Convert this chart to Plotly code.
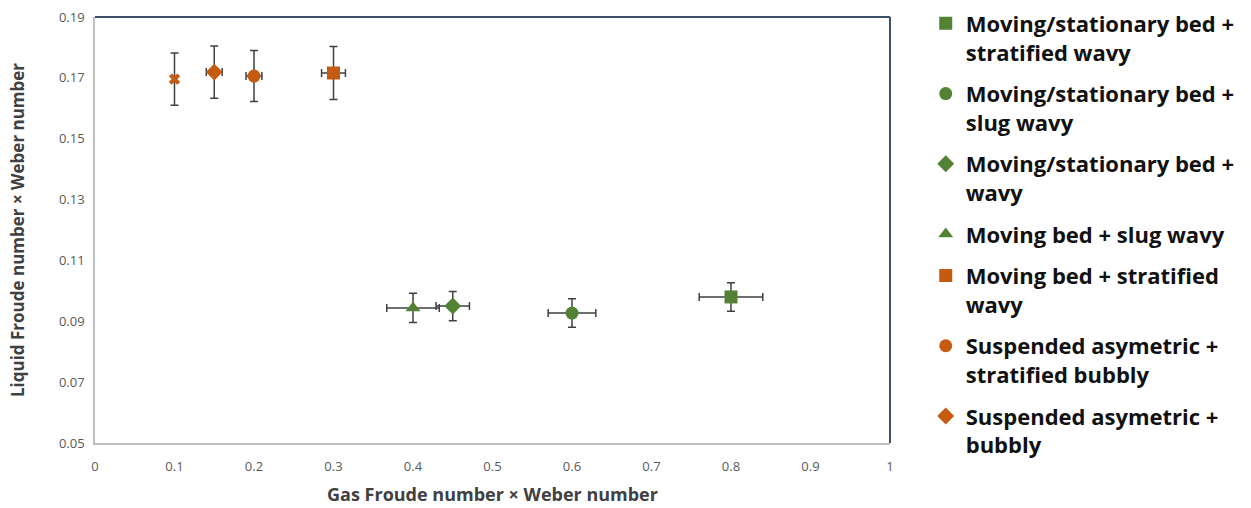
import plotly.graph_objects as go

GREEN = "#548235"
ORANGE = "#c55a11"

# series: name, x, y, x error, y error, symbol, color
names = [
    "Moving/stationary bed +<br>stratified wavy",
    "Moving/stationary bed +<br>slug wavy",
    "Moving/stationary bed +<br>wavy",
    "Moving bed + slug wavy",
    "Moving bed + stratified<br>wavy",
    "Suspended asymetric +<br>stratified bubbly",
    "Suspended asymetric +<br>bubbly",
]
x_vals = [0.80, 0.60, 0.45, 0.40, 0.30, 0.20, 0.15]
y_vals = [0.0980, 0.0927, 0.0950, 0.0944, 0.1716, 0.1706, 0.1719]
x_err = [0.040, 0.030, 0.021, 0.033, 0.015, 0.010, 0.010]
y_err = [0.0047, 0.0047, 0.0048, 0.0048, 0.0087, 0.0084, 0.0086]
symbols = ["square", "circle", "diamond", "triangle-up", "square", "circle", "diamond"]
colors = [GREEN, GREEN, GREEN, GREEN, ORANGE, ORANGE, ORANGE]

# extra unlabelled point
extra_x = [0.10]
extra_y = [0.1696]
extra_yerr = [0.0086]

fig = go.Figure()
for i in range(len(names)):
    fig.add_trace(go.Scatter(
        x=[x_vals[i]], y=[y_vals[i]], mode="markers", name=names[i],
        legendgroup="g%d" % i,
        marker=dict(symbol=symbols[i], color=colors[i], size=13,
                    line=dict(width=0)),
        error_x=dict(type="data", array=[x_err[i]], color="#404040", thickness=1.5, width=4),
        error_y=dict(type="data", array=[y_err[i]], color="#404040", thickness=1.5, width=4),
    ))

fig.add_trace(go.Scatter(
    x=extra_x, y=extra_y, mode="markers", showlegend=False, legendgroup="extra",
    marker=dict(symbol="x", color=ORANGE, size=10, line=dict(width=0)),
    error_y=dict(type="data", array=extra_yerr, color="#404040", thickness=1.5, width=4),
))

# top/right frame in dark slate
fig.add_shape(type="line", xref="x domain", yref="y domain", x0=0, x1=1, y0=1, y1=1,
              line=dict(color="#3a5068", width=2))
fig.add_shape(type="line", xref="x domain", yref="y domain", x0=1, x1=1, y0=0, y1=1,
              line=dict(color="#3a5068", width=2))

fig.update_layout(
    width=1251, height=508,
    margin=dict(l=95, r=361, t=17, b=65),
    paper_bgcolor="white", plot_bgcolor="white",
    font=dict(family="Open Sans, sans-serif", color="#595959"),
    xaxis=dict(range=[0, 1], dtick=0.1, tick0=0, showgrid=False, zeroline=False,
               showline=True, linecolor="#bfbfbf", linewidth=1.5, automargin=False,
               tickfont=dict(size=13, color="#595959"), ticks="", ticklabelstandoff=11,
               title=dict(text="<b>Gas Froude number × Weber number</b>",
                          font=dict(size=18, color="#404040"), standoff=14)),
    yaxis=dict(range=[0.05, 0.19], dtick=0.02, tick0=0.05, showgrid=False, zeroline=False,
               showline=True, linecolor="#bfbfbf", linewidth=1.5, automargin=False,
               tickformat=".2f", ticklabelstandoff=6,
               tickfont=dict(size=13, color="#595959"), ticks="",
               title=dict(text="<b>Liquid Froude number × Weber number</b>",
                          font=dict(size=17, color="#404040"), standoff=30)),
    legend=dict(x=0.740, xanchor="left", xref="container", y=0.995, yanchor="top", yref="container",
                font=dict(family="Open Sans, sans-serif", size=22, color="#111111", weight="bold"),
                valign="top", itemsizing="trace", tracegroupgap=10, maxheight=1.0,
                bgcolor="rgba(0,0,0,0)"),
)

fig.write_html("out.html")
